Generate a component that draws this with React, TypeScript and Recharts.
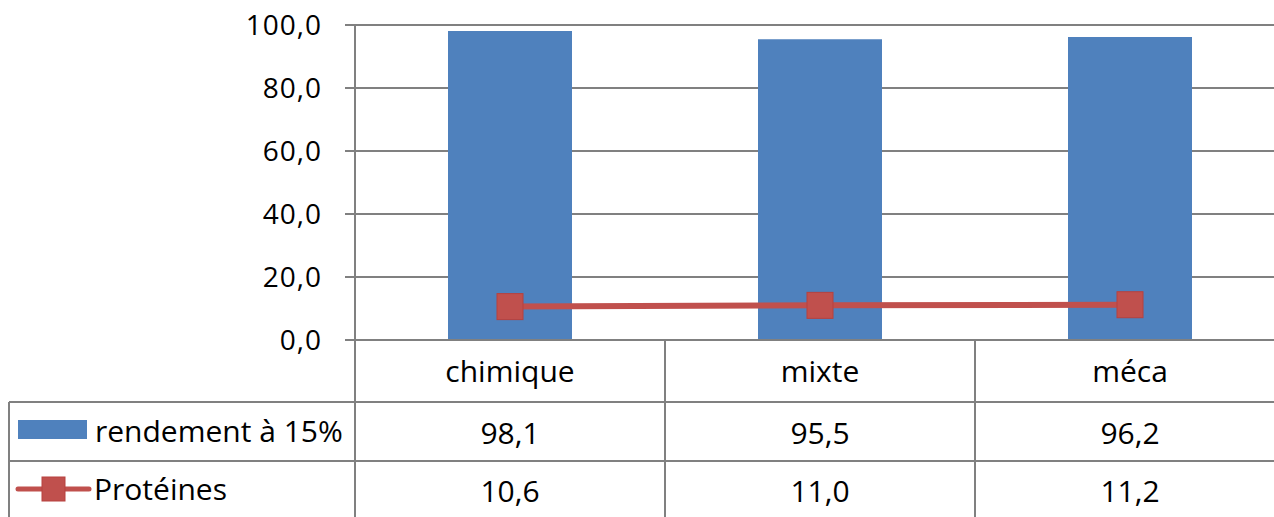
import React from 'react';
import { ComposedChart, Bar, Line, XAxis, YAxis, CartesianGrid } from 'recharts';

const categories = ['chimique', 'mixte', 'méca'];
const rendement = [98.1, 95.5, 96.2];
const proteines = [10.6, 11.0, 11.2];
const yTicks = [0, 20, 40, 60, 80, 100];
const seriesNames = ['rendement à 15%', 'Protéines'];

const data = categories.map((c, i) => ({ cat: c, rendement: rendement[i], proteines: proteines[i] }));

const fmt = (v: number) => v.toFixed(1).replace('.', ',');

const CHART_W = 1290;
const CHART_H = 517;
const LEFT = 355;
const RIGHT_MARGIN = 5;
const TOP = 25;
const XAXIS_H = 177;
const PLOT_BOTTOM = CHART_H - XAXIS_H;
const HALF_BAND = (CHART_W - RIGHT_MARGIN - LEFT) / categories.length / 2;
const ROW1 = PLOT_BOTTOM + 62;
const ROW2 = ROW1 + 59;
const GRID = '#808080';
const FONT = '"Open Sans", sans-serif';
const BLUE = '#4F81BD';
const RED = '#C0504D';

const TableTick = (props: any) => {
  const { x, index, payload } = props;
  const i = index;
  return (
    <g>
      {i === 0 && (
        <g>
          <line x1={LEFT} y1={PLOT_BOTTOM} x2={LEFT} y2={CHART_H} stroke={GRID} strokeWidth={2} />
          <line x1={9} y1={ROW1} x2={9} y2={CHART_H} stroke={GRID} strokeWidth={2} />
          <line x1={9} y1={ROW1} x2={CHART_W} y2={ROW1} stroke={GRID} strokeWidth={2} />
          <line x1={9} y1={ROW2} x2={CHART_W} y2={ROW2} stroke={GRID} strokeWidth={2} />
          <rect x={18} y={420} width={69} height={19} fill={BLUE} />
          <text x={95} y={442} fontFamily={FONT} fontSize={30} fill="#000">{seriesNames[0]}</text>
          <line x1={18} y1={489} x2={89} y2={489} stroke={RED} strokeWidth={5} strokeLinecap="round" />
          <rect x={42} y={477} width={23} height={24} fill={RED} stroke="#B7413E" strokeWidth={1} />
          <text x={94} y={500} fontFamily={FONT} fontSize={30} fill="#000">{seriesNames[1]}</text>
        </g>
      )}
      <line x1={x + HALF_BAND} y1={PLOT_BOTTOM} x2={x + HALF_BAND} y2={CHART_H} stroke={GRID} strokeWidth={2} />
      <text x={x} y={382} textAnchor="middle" fontFamily={FONT} fontSize={30} fill="#000">{payload.value}</text>
      <text x={x} y={444} textAnchor="middle" fontFamily={FONT} fontSize={30} fill="#000">{fmt(rendement[i])}</text>
      <text x={x} y={502} textAnchor="middle" fontFamily={FONT} fontSize={30} fill="#000">{fmt(proteines[i])}</text>
    </g>
  );
};

const SquareDot = (props: any) => {
  const { cx, cy, index } = props;
  return <rect key={`d${index}`} x={cx - 13} y={cy - 13} width={26} height={26} fill={RED} stroke="#B7413E" strokeWidth={1} />;
};

export default function App() {
  return (
    <div style={{ position: 'absolute', left: 0, top: 0, width: 1274, height: 517, overflow: 'hidden', background: '#fff' }}>
      <ComposedChart width={CHART_W} height={CHART_H} data={data} margin={{ top: TOP, right: RIGHT_MARGIN, left: 0, bottom: 0 }}>
        <CartesianGrid vertical={false} stroke={GRID} strokeWidth={2} />
        <XAxis
          dataKey="cat"
          height={XAXIS_H}
          axisLine={{ stroke: GRID, strokeWidth: 2 }}
          tickLine={false}
          tick={<TableTick />}
          interval={0}
        />
        <YAxis
          width={LEFT}
          domain={[0, 100]}
          ticks={yTicks}
          tickFormatter={fmt}
          axisLine={{ stroke: GRID, strokeWidth: 2 }}
          tickLine={{ stroke: GRID, strokeWidth: 2 }}
          tickSize={10}
          tickMargin={23}
          tick={{ fontFamily: FONT, fontSize: 28, fill: '#000', letterSpacing: 1 }}
        />
        <Bar dataKey="rendement" fill={BLUE} barSize={124} isAnimationActive={false} />
        <Line dataKey="proteines" type="linear" stroke={RED} strokeWidth={6} dot={<SquareDot />} activeDot={false} isAnimationActive={false} />
      </ComposedChart>
    </div>
  );
}
